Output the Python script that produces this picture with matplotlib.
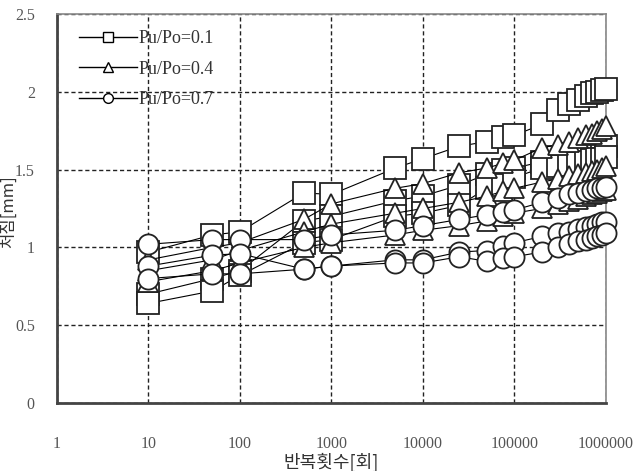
import matplotlib
matplotlib.use("Agg")
import matplotlib.pyplot as plt
from matplotlib.lines import Line2D
from matplotlib.ticker import FixedLocator, FixedFormatter, NullLocator

# 반복횟수 (cycles)
cycles = [10, 50, 100, 500, 1000, 5000, 10000, 25000, 50000, 75000, 100000,
          200000, 300000, 400000, 500000, 600000, 700000, 800000, 900000, 1000000]

# Pu/Po=0.1 (squares)
sq1 = [0.97, 1.08, 1.10, 1.35, 1.34, 1.51, 1.57, 1.65, 1.68, 1.71, 1.72,
       1.79, 1.88, 1.92, 1.95, 1.97, 1.99, 2.00, 2.01, 2.02]
sq2 = [0.70, 0.80, 0.85, 1.17, 1.20, 1.30, 1.33, 1.40, 1.47, 1.50, 1.51,
       1.55, 1.58, 1.60, 1.61, 1.62, 1.63, 1.64, 1.64, 1.65]
sq3 = [0.64, 0.72, 0.82, 1.03, 1.05, 1.20, 1.22, 1.27, 1.38, 1.40, 1.45,
       1.51, 1.52, 1.53, 1.54, 1.55, 1.56, 1.57, 1.57, 1.58]

# Pu/Po=0.4 (triangles)
tr1 = [0.92, 1.00, 1.03, 1.18, 1.28, 1.38, 1.41, 1.48, 1.51, 1.54, 1.56,
       1.64, 1.66, 1.68, 1.70, 1.72, 1.73, 1.75, 1.76, 1.78]
tr2 = [0.85, 0.92, 0.98, 1.10, 1.15, 1.22, 1.25, 1.29, 1.33, 1.36, 1.38,
       1.42, 1.44, 1.46, 1.47, 1.48, 1.49, 1.50, 1.51, 1.52]
tr3 = [0.78, 0.85, 0.90, 1.00, 1.03, 1.08, 1.11, 1.14, 1.17, 1.20, 1.22,
       1.25, 1.28, 1.30, 1.31, 1.33, 1.34, 1.35, 1.36, 1.37]

# Pu/Po=0.7 (circles)
ci1 = [1.02, 1.05, 1.05, 1.05, 1.08, 1.11, 1.14, 1.18, 1.21, 1.23, 1.24,
       1.29, 1.32, 1.34, 1.35, 1.36, 1.37, 1.38, 1.38, 1.39]
ci2 = [0.88, 0.95, 0.96, 0.86, 0.88, 0.92, 0.92, 0.97, 0.98, 1.01, 1.03,
       1.07, 1.09, 1.10, 1.12, 1.13, 1.14, 1.15, 1.16, 1.16]
ci3 = [0.80, 0.83, 0.83, 0.86, 0.88, 0.90, 0.90, 0.94, 0.91, 0.93, 0.94,
       0.97, 1.00, 1.02, 1.04, 1.05, 1.06, 1.07, 1.08, 1.09]

legend_labels = ["Pu/Po=0.1", "Pu/Po=0.4", "Pu/Po=0.7"]
x_ticks = [1, 10, 100, 1000, 10000, 100000, 1000000]
y_ticks = [0, 0.5, 1, 1.5, 2, 2.5]

serif = ["Liberation Serif", "DejaVu Serif"]
kor = ["Noto Sans CJK KR", "DejaVu Sans"]

fig = plt.figure(figsize=(6.37, 4.71), dpi=100)
ax = fig.add_axes([0.0895, 0.1444, 0.8616, 0.8259])

groups = [(["s"] * 3, [sq1, sq2, sq3], 15.5),
          (["^"] * 3, [tr1, tr2, tr3], 15),
          (["o"] * 3, [ci1, ci2, ci3], 14.5)]
for markers, series, ms in groups:
    for m, vals in zip(markers, series):
        ax.plot(cycles, vals, color="black", lw=0.8, marker=m, ms=ms,
                mfc="white", mec="#222222", mew=1.3, zorder=3, clip_on=False)

ax.set_xscale("log")
ax.set_xlim(1, 1000000)
ax.set_ylim(0, 2.5)
ax.xaxis.set_major_locator(FixedLocator(x_ticks))
ax.xaxis.set_major_formatter(FixedFormatter([str(v) for v in x_ticks]))
ax.xaxis.set_minor_locator(NullLocator())
ax.yaxis.set_major_locator(FixedLocator(y_ticks))
ax.yaxis.set_major_formatter(FixedFormatter(["0", "0.5", "1", "1.5", "2", "2.5"]))

ax.grid(True, color="#222222", lw=1.0, ls=(0, (3, 2)))
ax.set_axisbelow(True)
ax.tick_params(length=0, labelsize=11.5, labelcolor="#555555")
ax.tick_params(axis="x", pad=24)
ax.tick_params(axis="y", pad=16)
for lab in ax.get_xticklabels() + ax.get_yticklabels():
    lab.set_family(serif)

for side in ["left", "bottom"]:
    ax.spines[side].set_color("#444444")
    ax.spines[side].set_linewidth(2.0)
for side in ["top", "right"]:
    ax.spines[side].set_color("#888888")
    ax.spines[side].set_linewidth(1.2)

handles = [Line2D([], [], color="black", lw=1.0, marker=m, ms=7, mfc="white",
                  mec="black", mew=1.0) for m in ["s", "^", "o"]]
leg = ax.legend(handles, legend_labels, loc="upper left",
                bbox_to_anchor=(0.01, 1.0), frameon=False, handlelength=3.2,
                handletextpad=0.1, labelspacing=0.75,
                prop={"family": serif, "size": 13})
for t in leg.get_texts():
    t.set_color("#333333")

ax.set_xlabel("반복횟수[회]", family=kor, fontsize=13, color="#333333", labelpad=0)
fig.text(0.0135, 0.55, "처짐[mm]", family=kor, fontsize=12, color="#333333",
         rotation=90, ha="center", va="center")

fig.savefig("out.png", dpi=100)
